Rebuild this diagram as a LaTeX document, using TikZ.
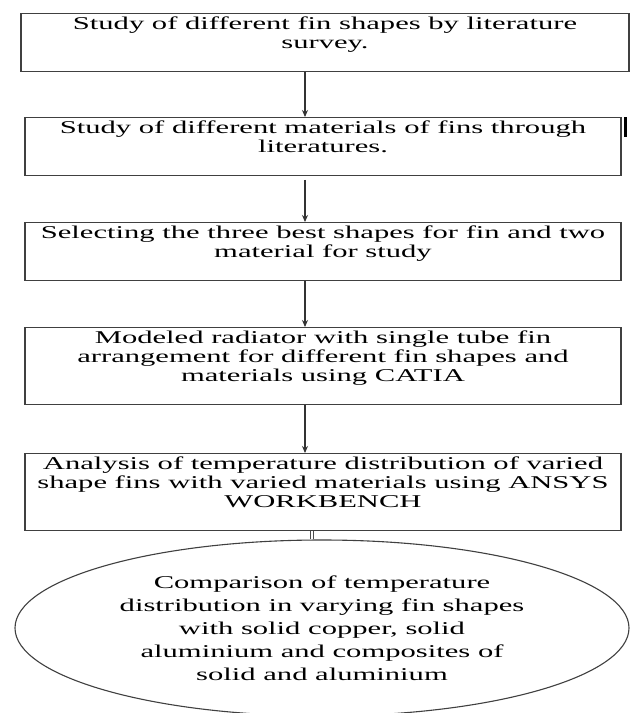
\documentclass[tikz,border=0pt]{standalone}
\usepackage{fontspec}
\setmainfont[FakeStretch=1.7]{Liberation Serif}
\usetikzlibrary{shapes.geometric,arrows.meta}
\begin{document}
\begin{tikzpicture}[x=1pt, y=-1pt,
  paso/.style={draw=black!75, line width=1.3pt, rectangle, align=center, anchor=north,
    minimum width=596pt, inner xsep=0pt, inner ysep=3pt, text depth=20pt,
    font={\fontsize{18}{19}\selectfont}},
  flecha/.style={draw=black!80, line width=1.1pt, -{Stealth[length=7pt,width=6pt]}}] % {{{
\pgfmathsetmacro{\xflecha}{305}
% Fondo {{{
\fill[white] (0,0) rectangle (630,713) ;
\useasboundingbox (0,0) rectangle (630,713) ;
% }}}
% Pasos {{{
\node[paso, minimum width=608pt] (s1) at (325,13) {Study of different fin shapes by literature\\survey.} ;
\node[paso] (s2) at (323,117) {Study of different materials of fins through\\literatures.} ;
\node[paso] (s3) at (323,222) {Selecting the three best shapes for fin and two\\material for study} ;
\node[paso] (s4) at (323,327) {Modeled radiator with single tube fin\\arrangement for different fin shapes and\\materials using CATIA} ;
\node[paso] (s5) at (323,453) {Analysis of temperature distribution of varied\\shape fins with varied materials using ANSYS\\WORKBENCH} ;
\node[draw=black!75, line width=1.1pt, ellipse, minimum width=614pt, minimum height=176pt,
  inner sep=0pt, align=center, font={\fontsize{18}{23}\selectfont}] (res) at (322,628)
  {Comparison of temperature\\distribution in varying fin shapes\\with solid copper, solid\\aluminium and composites of\\solid and aluminium} ;
% }}}
% Flechas {{{
\coordinate (ax) at (\xflecha,0) ;
\coordinate (gx) at (312,0) ;
\draw[flecha] (s1.south -| ax) -- (s2.north -| ax) ;
\draw[flecha, shorten <=4pt] (s2.south -| ax) -- (s3.north -| ax) ;
\draw[flecha] (s3.south -| ax) -- (s4.north -| ax) ;
\draw[flecha] (s4.south -| ax) -- (s5.north -| ax) ;
\draw[black!70, double, double distance=2pt, line width=0.7pt] (s5.south -| gx) -- (res.north -| gx) ;
\draw[line width=2.5pt] (625.5,117) -- (625.5,137) ;
% }}}
\end{tikzpicture}
\end{document}
